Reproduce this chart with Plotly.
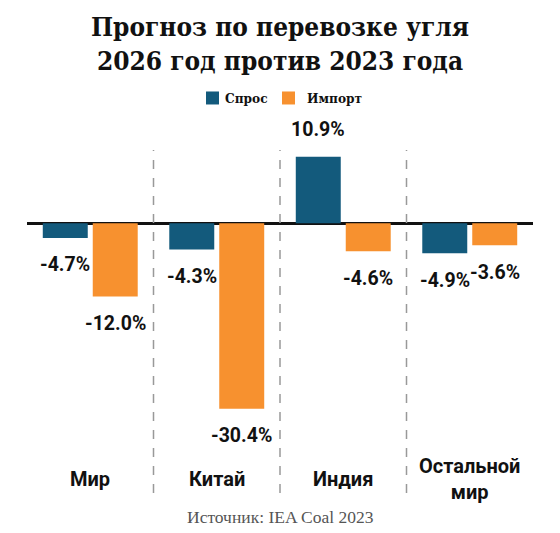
import plotly.graph_objects as go

categories = ["Мир", "Китай", "Индия", "Остальной<br>мир"]
series_names = ["Спрос", "Импорт"]
demand_values = [-2.4, -4.3, 10.9, -4.9]
import_values = [-12.0, -30.4, -4.6, -3.6]
demand_labels = ["-4.7%", "-4.3%", "10.9%", "-4.9%"]
import_labels = ["-12.0%", "-30.4%", "-4.6%", "-3.6%"]
source_text = "Источник: IEA Coal 2023"
title_text = "Прогноз по перевозке угля<br>2026 год против 2023 года"

BLUE = "#135a7c"
ORANGE = "#f7912f"
colors = [BLUE, ORANGE]

fig = go.Figure()
fig.add_trace(go.Bar(x=categories, y=demand_values, name=series_names[0],
                     marker=dict(color=BLUE, line=dict(width=0)), showlegend=False))
fig.add_trace(go.Bar(x=categories, y=import_values, name=series_names[1],
                     marker=dict(color=ORANGE, line=dict(width=0)), showlegend=False))

annotations = []
for vals, labs, shift in ((demand_values, demand_labels, -25), (import_values, import_labels, 25)):
    for cat, v, lab in zip(categories, vals, labs):
        annotations.append(dict(
            x=cat, y=v, xref="x", yref="y", text="<b>" + lab + "</b>",
            showarrow=False, xshift=shift, yshift=27 if v > 0 else -27,
            xanchor="center", yanchor="middle",
            font=dict(family="Roboto", size=19.5, color="#111111")))

for cat in categories:
    annotations.append(dict(
        x=cat, y=0.041, xref="x", yref="paper", text="<b>" + cat + "</b>",
        showarrow=False, xanchor="center", yanchor="middle",
        font=dict(family="Roboto", size=20, color="#111111")))

annotations.append(dict(
    x=0.5, y=-0.07, xref="paper", yref="paper", text=source_text,
    showarrow=False, xanchor="center", yanchor="middle",
    font=dict(family="Liberation Serif", size=17.5, color="#555555")))

shapes = []
for i in range(len(categories) - 1):
    shapes.append(dict(type="line", xref="x", yref="paper",
                       x0=i + 0.5, x1=i + 0.5, y0=0, y1=1,
                       line=dict(color="#999999", width=1.5, dash="dash")))

# custom legend (swatch + label) placed above the plot area
legend_swatch_x = [(0.3538, 0.3794), (0.504, 0.5296)]
legend_text_x = [0.3874, 0.5494]
for name, col, (sx0, sx1), tx in zip(series_names, colors, legend_swatch_x, legend_text_x):
    shapes.append(dict(type="rect", xref="paper", yref="paper",
                       x0=sx0, x1=sx1, y0=1.1327, y1=1.1706,
                       fillcolor=col, line=dict(width=0)))
    annotations.append(dict(
        x=tx, y=1.152, xref="paper", yref="paper", text="<b>" + name + "</b>",
        showarrow=False, xanchor="left", yanchor="middle",
        font=dict(family="DejaVu Serif Condensed", size=13.5, color="#111111")))

fig.update_layout(
    width=560, height=533,
    margin=dict(l=27, r=27, t=150, b=40),
    paper_bgcolor="white", plot_bgcolor="white",
    barmode="group", bargap=0.21, bargroupgap=0.1,
    showlegend=False,
    title=dict(text="<b>" + title_text + "</b>", x=0.5, xanchor="center",
               y=0.9324, yanchor="top",
               font=dict(family="DejaVu Serif Condensed", size=26, color="#111111")),
    xaxis=dict(showticklabels=False, showgrid=False, zeroline=False, showline=False,
               ticks="", range=[-0.5, 3.5]),
    yaxis=dict(showticklabels=False, showgrid=False, zeroline=True,
               zerolinecolor="#111111", zerolinewidth=2.5, showline=False,
               ticks="", range=[-44.2, 12.0]),
    annotations=annotations,
    shapes=shapes,
)

fig.write_html("out.html", config={"displayModeBar": False},
               post_script="document.body.style.margin='0px';")
